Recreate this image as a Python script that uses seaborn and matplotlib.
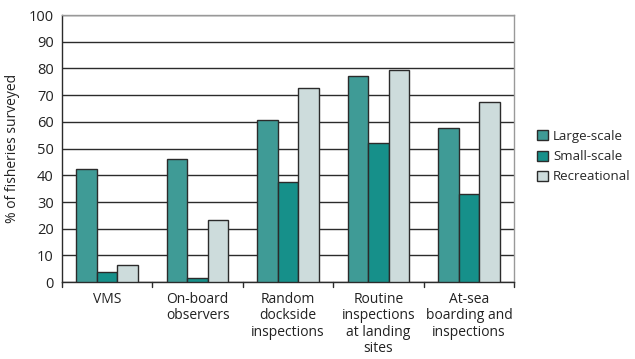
import pandas as pd
import seaborn as sns
import matplotlib.pyplot as plt

methods = ['VMS', 'On-board\nobservers', 'Random\ndockside\ninspections',
           'Routine\ninspections\nat landing\nsites', 'At-sea\nboarding and\ninspections']
large_scale = [42.3, 46.0, 60.6, 77.1, 57.6]
small_scale = [3.7, 1.5, 37.4, 52.0, 32.9]
recreational = [6.4, 23.2, 72.6, 79.3, 67.3]
series = ['Large-scale', 'Small-scale', 'Recreational']

df = pd.DataFrame({'method': methods * 3,
                   'sector': [s for s in series for _ in methods],
                   'pct': large_scale + small_scale + recreational})

sns.set_style('white')
plt.rcParams['font.family'] = ['Open Sans', 'DejaVu Sans']

fig = plt.figure(figsize=(6.35, 3.59), dpi=100)
ax = fig.add_axes([0.0976, 0.214, 0.712, 0.744])
palette = ['#3f9b96', '#16908a', '#cddcdc']
sns.barplot(data=df, x='method', y='pct', hue='sector', palette=palette,
            width=0.68, edgecolor='#2b2b2b', linewidth=1.0, saturation=1, ax=ax, zorder=3)

ax.set_ylim(0, 100)
ax.set_xlim(-0.5, 4.5)
ax.set_yticks(range(0, 101, 10))
ax.yaxis.grid(True, color='#2b2b2b', linewidth=1.0, zorder=0)
ax.set_axisbelow(True)
ax.set_xlabel('')
ax.set_ylabel('% of fisheries surveyed', fontsize=10, color='#222222', labelpad=6)
ax.tick_params(axis='y', labelsize=10.5, colors='#222222', length=0, pad=6)
ax.set_xticks([0, 1, 2, 3, 4])
ax.set_xticklabels(methods, fontsize=10, color='#222222', linespacing=1.12, va='top')
ax.tick_params(axis='x', length=0, pad=7)
# separator ticks between groups
for xb in [-0.5, 0.5, 1.5, 2.5, 3.5, 4.5]:
    ax.plot([xb, xb], [0, -1.8], color='#2b2b2b', lw=1.0, clip_on=False)
for side in ['top', 'right']:
    ax.spines[side].set_color('#999999')
    ax.spines[side].set_linewidth(1.0)
for side in ['left', 'bottom']:
    ax.spines[side].set_color('#2b2b2b')
    ax.spines[side].set_linewidth(1.0)

ax.legend(loc='center left', bbox_to_anchor=(1.034, 0.47), frameon=False, fontsize=9.5,
          handlelength=0.8, handleheight=0.8, handletextpad=0.4, labelspacing=0.55,
          borderaxespad=0.2)

fig.savefig('out.png', dpi=100)
